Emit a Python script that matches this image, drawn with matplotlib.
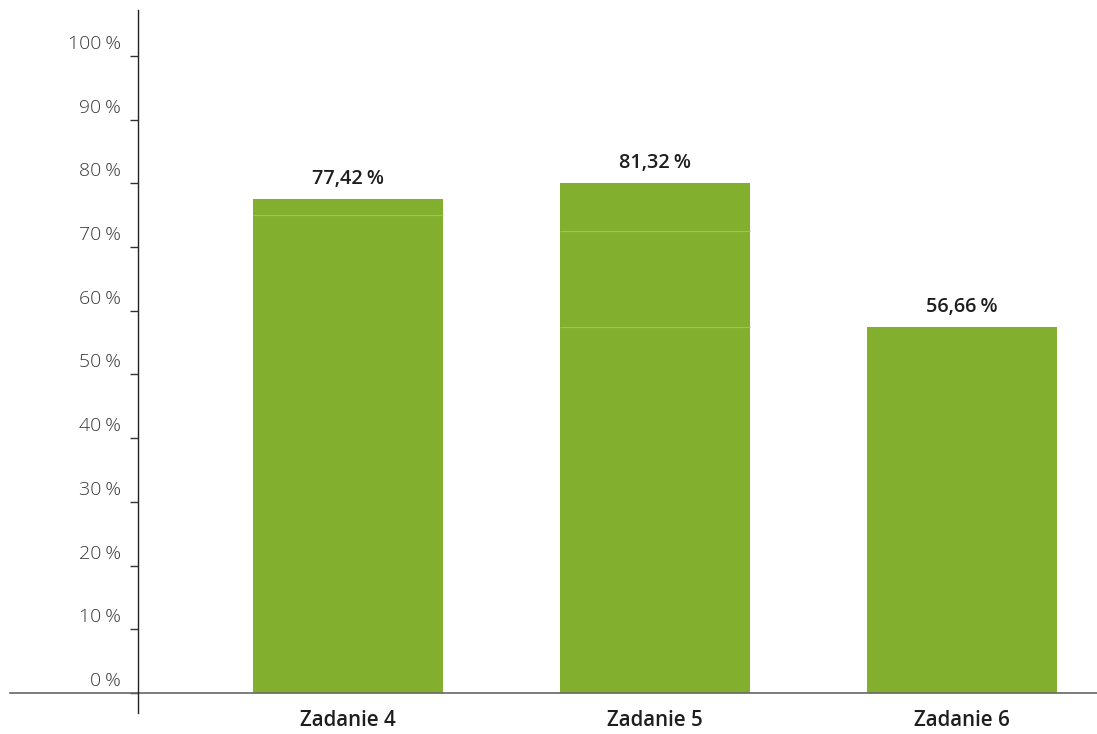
import matplotlib
matplotlib.use("Agg")
import matplotlib.pyplot as plt
from matplotlib.lines import Line2D
from matplotlib.transforms import ScaledTranslation

plt.rcParams['font.family'] = ['Open Sans', 'DejaVu Sans']

categories = ['Zadanie 4', 'Zadanie 5', 'Zadanie 6']
value_labels = ['77,42\u2009%', '81,32\u2009%', '56,66\u2009%']
# stacked segments as drawn in the picture (bottom to top)
segments = [
    [75.0, 2.5],
    [57.5, 15.0, 7.5],
    [57.5],
]
yticks = list(range(0, 101, 10))
ytick_labels = [f'{t}\u2009%' for t in yticks]

bar_color = '#82b02e'
seam_color = '#9cc653'

W, H = 1097, 734
fig = plt.figure(figsize=(W / 100, H / 100), dpi=100)
ax = fig.add_axes([138 / W, 41 / H, (W - 138) / W, (693 - 10) / H])

width = 0.62
for i, segs in enumerate(segments):
    bottom = 0
    for s in segs:
        ax.bar(i, s, width=width, bottom=bottom, color=bar_color, linewidth=0)
        bottom += s
    for b in [sum(segs[:k]) for k in range(1, len(segs))]:
        ax.hlines(b, i - width / 2, i + width / 2, color=seam_color, lw=0.8)
    ax.text(i, bottom, value_labels[i], ha='center', va='bottom',
            fontsize=14.3, fontweight='semibold', color='#1e1e1e',
            transform=ax.transData + ScaledTranslation(0, 10 / 100, fig.dpi_scale_trans))

ax.set_xlim(-0.684, 2.44)
ax.set_ylim(0, 107.2)

for sp in ax.spines.values():
    sp.set_visible(False)

ax.set_xticks(range(len(categories)))
ax.set_xticklabels(categories, fontsize=14.8, fontweight='semibold', color='#1e1e1e')
ax.tick_params(axis='x', length=0, pad=12)

ax.set_yticks(yticks)
ax.set_yticklabels(ytick_labels, fontsize=14, fontweight='light', color='#383838')
ax.tick_params(axis='y', direction='out', length=6, width=1, color='#333333', pad=6)
for lab in ax.get_yticklabels():
    lab.set_transform(lab.get_transform() + ScaledTranslation(0, 14 / 100, fig.dpi_scale_trans))

# baseline across the whole width and vertical axis line running below it
fig.add_artist(Line2D([10 / W, 1], [(H - 693) / H] * 2, color='#666666', lw=1.2))
fig.add_artist(Line2D([138 / W] * 2, [(H - 713) / H, (H - 10) / H], color='#222222', lw=1.0))

fig.savefig('out.png', dpi=100)
